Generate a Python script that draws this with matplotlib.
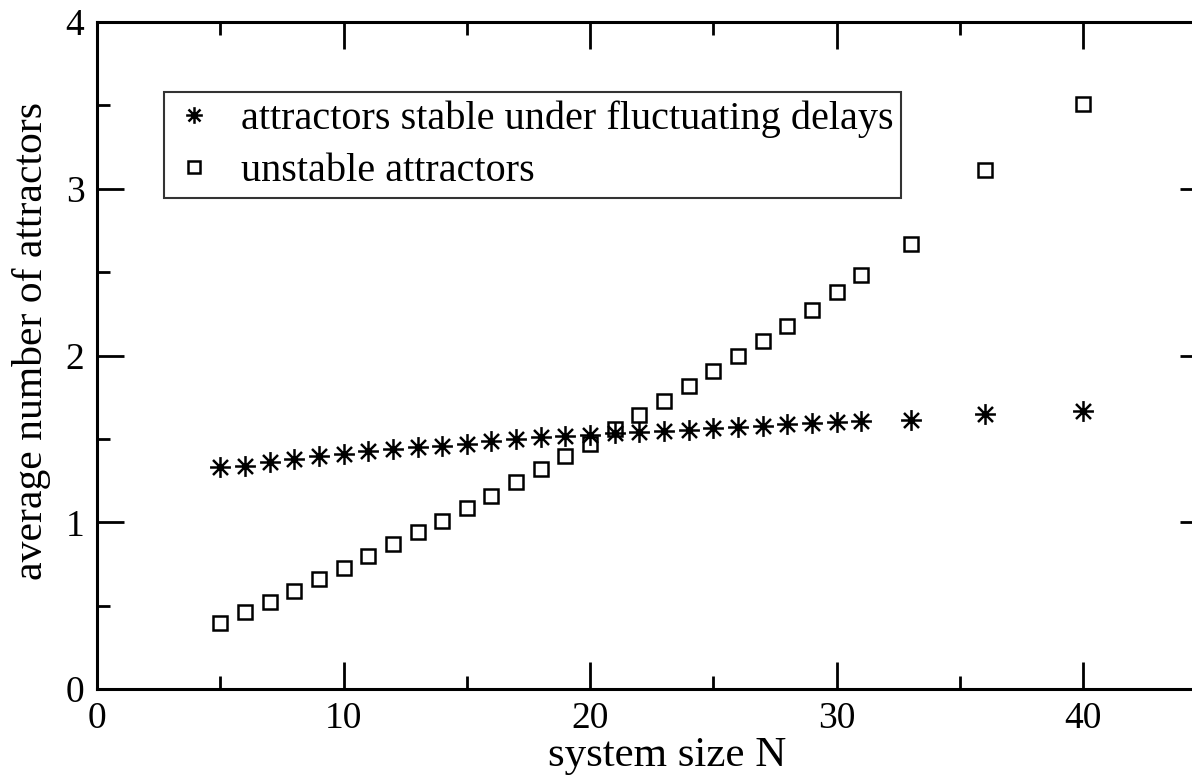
import matplotlib
matplotlib.use("Agg")
import matplotlib.pyplot as plt
from matplotlib.path import Path
from matplotlib.ticker import MultipleLocator

# system sizes N
sizes = [5, 6, 7, 8, 9, 10, 11, 12, 13, 14, 15, 16, 17, 18, 19, 20,
         21, 22, 23, 24, 25, 26, 27, 28, 29, 30, 31, 33, 36, 40]

# attractors stable under fluctuating delays
stable = [1.33, 1.34, 1.36, 1.38, 1.395, 1.41, 1.425, 1.44, 1.45, 1.46,
          1.47, 1.485, 1.50, 1.51, 1.515, 1.525, 1.535, 1.54, 1.55, 1.555,
          1.565, 1.57, 1.58, 1.59, 1.595, 1.60, 1.61, 1.615, 1.65, 1.67]

# unstable attractors
unstable = [0.395, 0.46, 0.52, 0.59, 0.66, 0.725, 0.80, 0.87, 0.94, 1.01,
            1.085, 1.16, 1.24, 1.32, 1.40, 1.47, 1.56, 1.645, 1.73, 1.82,
            1.905, 1.995, 2.085, 2.175, 2.275, 2.38, 2.48, 2.67, 3.11, 3.51]

plt.rcParams['font.family'] = ['Liberation Serif', 'DejaVu Serif']

# 8-armed asterisk like the xmgrace star symbol
d = 0.72
star = Path([(-1, 0), (1, 0), (0, -1), (0, 1),
             (-d, -d), (d, d), (-d, d), (d, -d)],
            [Path.MOVETO, Path.LINETO] * 4)

# axes box runs a bit past the right edge of the picture (xmax = 45)
fig = plt.figure(figsize=(11.92, 7.78), dpi=100)
ax = fig.add_axes([97 / 1192, 1 - 689 / 778, (1206.5 - 97) / 1192, (689 - 22) / 778])

ax.plot(sizes, stable, linestyle='none', marker=star, markersize=15,
        markeredgewidth=1.8, color='black',
        label='attractors stable under fluctuating delays')
ax.plot(sizes, unstable, linestyle='none', marker='s', markersize=10,
        markerfacecolor='none', markeredgewidth=1.8, markeredgecolor='black',
        label='unstable attractors')

ax.set_xlim(0, 45)
ax.set_ylim(0, 4)
ax.xaxis.set_major_locator(MultipleLocator(10))
ax.xaxis.set_minor_locator(MultipleLocator(5))
ax.yaxis.set_major_locator(MultipleLocator(1))
ax.yaxis.set_minor_locator(MultipleLocator(0.5))
ax.tick_params(which='both', direction='in', top=True, right=True,
               width=2, labelsize=27)
ax.tick_params(which='major', length=19.5, pad=9)
ax.tick_params(which='minor', length=9.5)
for s in ax.spines.values():
    s.set_linewidth(2.2)

ax.set_xlabel('system size N', fontsize=31)
ax.set_ylabel('average number of attractors', fontsize=30)
ax.xaxis.set_label_coords((667 - 97) / 1109.5, -(756 - 689) / 667, transform=ax.transAxes)
ax.yaxis.set_label_coords(-(97 - 32) / 1109.5, (689 - 341) / 667, transform=ax.transAxes)
ax.xaxis.label.set_va('center')
ax.yaxis.label.set_va('center')

leg = ax.legend(loc='upper left', bbox_to_anchor=((164 - 97) / 1109.5, (689 - 92) / 667),
                fontsize=29, frameon=True, fancybox=False, edgecolor='black',
                borderpad=0.2, handletextpad=0.6, labelspacing=0.38,
                handlelength=1.1, markerscale=0.8, borderaxespad=0)
leg.get_frame().set_linewidth(1.5)

fig.savefig('out.png', dpi=100)
